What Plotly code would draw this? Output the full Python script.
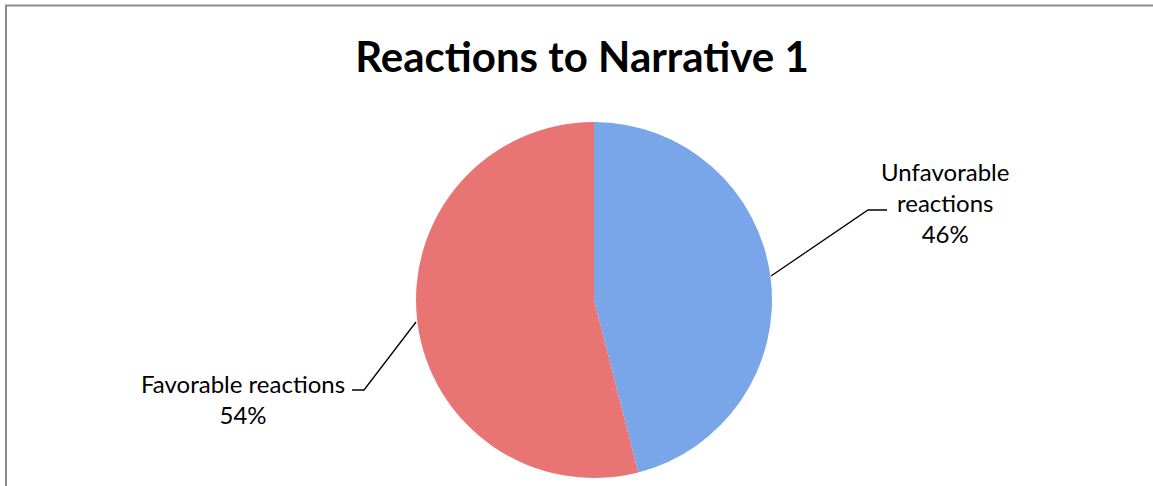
import plotly.graph_objects as go

W, H = 1153, 486

title_text = "Reactions to Narrative 1"
labels = ["Unfavorable reactions", "Favorable reactions"]
label_texts = ["Unfavorable<br>reactions", "Favorable reactions"]
values = [46, 54]
colors = ["#78A6E8", "#E87473"]

fig = go.Figure()
fig.add_trace(go.Pie(
    labels=labels,
    values=values,
    sort=False,
    direction="clockwise",
    rotation=0,
    marker=dict(colors=colors, line=dict(width=0)),
    textinfo="none",
    hoverinfo="label+percent",
    showlegend=False,
    domain=dict(x=[416 / W, 772 / W], y=[8 / H, 364 / H]),
))

total = sum(values)
pcts = [round(v / total * 100) for v in values]

def px(x):
    return x / W

def py(y):
    return 1 - y / H

font = dict(family="Lato, 'Open Sans', sans-serif", size=24, color="#000000")

# Unfavorable label
fig.add_annotation(x=px(945), y=py(202), xref="paper", yref="paper",
                   text=f"{label_texts[0]}<br>{pcts[0]}%", showarrow=False,
                   font=font, align="center", xanchor="center", yanchor="middle")
# Favorable label
fig.add_annotation(x=px(243), y=py(399), xref="paper", yref="paper",
                   text=f"{label_texts[1]}<br>{pcts[1]}%", showarrow=False,
                   font=font, align="center", xanchor="center", yanchor="middle")

# leader lines
line = dict(color="#000000", width=1.3)
fig.add_shape(type="path", xref="paper", yref="paper",
              path=f"M {px(771)} {py(276)} L {px(868)} {py(210)} L {px(887)} {py(210)}",
              line=line)
fig.add_shape(type="path", xref="paper", yref="paper",
              path=f"M {px(416)} {py(322)} L {px(364)} {py(390)} L {px(352)} {py(390)}",
              line=line)

# chart border (left and top visible)
fig.add_shape(type="path", xref="paper", yref="paper",
              path=f"M {px(6)} {py(500)} L {px(6)} {py(5.5)} L {px(1160)} {py(5.5)}",
              line=dict(color="#8C8C8C", width=2))

fig.update_layout(
    width=W, height=H,
    margin=dict(l=0, r=0, t=0, b=0),
    paper_bgcolor="#FFFFFF",
    plot_bgcolor="#FFFFFF",
    title=dict(text=f"<b>{title_text}</b>", x=582 / W, y=1 - 57 / H,
               xanchor="center", yanchor="middle", xref="paper", yref="container",
               font=dict(family="Lato, 'Open Sans', sans-serif", size=42, color="#000000")),
)

fig.write_html("out.html")
